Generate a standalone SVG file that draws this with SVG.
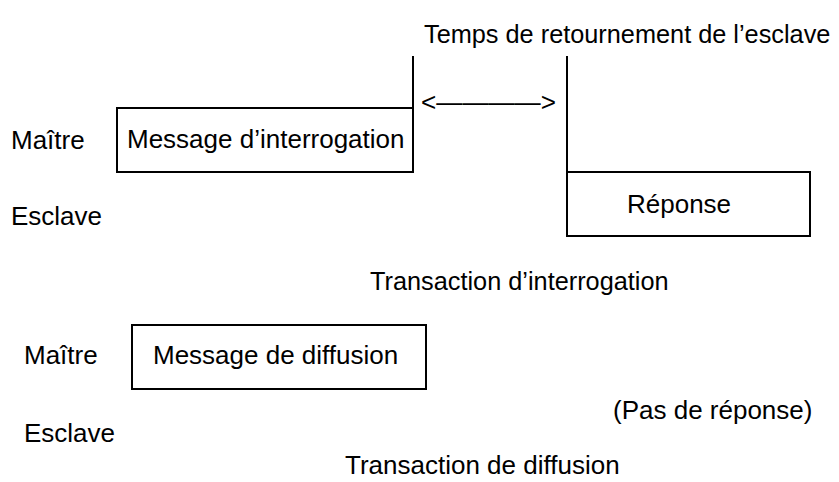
<svg xmlns="http://www.w3.org/2000/svg" width="839" height="482" viewBox="0 0 839 482">
<style>
text{font-family:"Liberation Sans",Arial,sans-serif;font-size:26px;fill:#000}
.box{fill:#fff;stroke:#000;stroke-width:2}
.ln{stroke:#000;stroke-width:2;fill:none}
</style>
<rect width="839" height="482" fill="#fff"/>
<g id="labels">
<text x="424" y="43" style="font-size:25.3px">Temps de retournement de l’esclave</text>
<text x="11" y="149">Maître</text>
<text x="11" y="225">Esclave</text>
<text x="370" y="290" style="font-size:25.3px">Transaction d’interrogation</text>
<text x="24" y="364">Maître</text>
<text x="613" y="419">(Pas de réponse)</text>
<text x="24" y="442">Esclave</text>
<text x="345" y="474">Transaction de diffusion</text>
</g>
<g id="node-interrogation">
<rect class="box" x="117" y="108" width="296" height="64"/>
<text x="127" y="148">Message d’interrogation</text>
</g>
<g id="node-reponse">
<rect class="box" x="567" y="172" width="243" height="64"/>
<text x="627" y="213">Réponse</text>
</g>
<g id="node-diffusion">
<rect class="box" x="132" y="325" width="294" height="64"/>
<text x="153" y="364">Message de diffusion</text>
</g>
<g id="connectors">
<line class="ln" x1="413" y1="56" x2="413" y2="173"/>
<line class="ln" x1="567" y1="56" x2="567" y2="237"/>
<text x="421" y="111" style="font-size:25px" textLength="135" lengthAdjust="spacingAndGlyphs">&lt;————&gt;</text>
</g>
</svg>
